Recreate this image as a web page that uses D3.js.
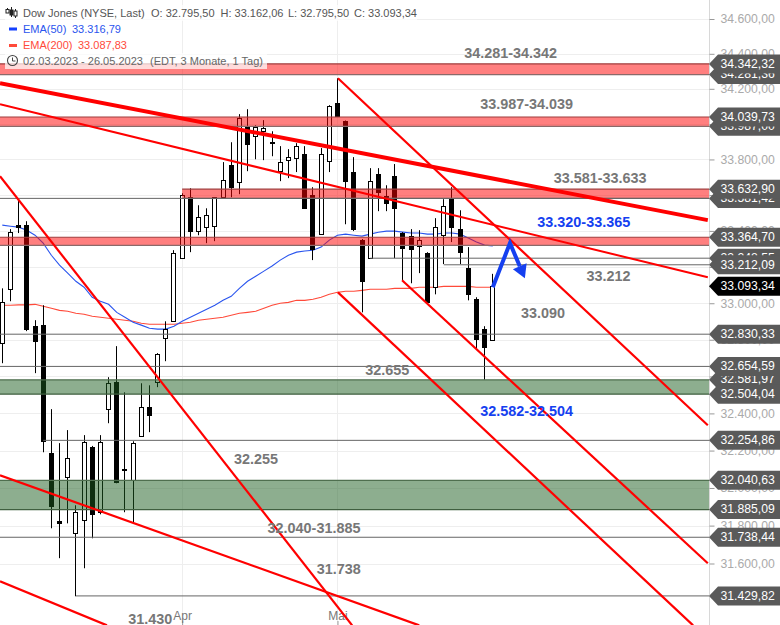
<!DOCTYPE html>
<html><head><meta charset="utf-8">
<script src="https://cdn.jsdelivr.net/npm/d3@7"></script>
<style>html,body{margin:0;padding:0;background:#fff;overflow:hidden}svg{display:block;font-family:"Liberation Sans",Arial,sans-serif}</style>
</head><body><svg id="c" width="780" height="625"></svg>
<script>
const opens=[32781,33077,33432,33432,32874,32880,32186,31823,32057,31760,31828,32218,31871,32423,32569,32100,32041,32277,32433,32569,32808,32901,33249,33588,33399,33421,33426,33588,33768,33672,33982,33931,33959,33897,33734,33796,33807,33830,33599,33382,33790,34118,34016,33729,33349,33249,33718,33594,33706,33388,33371,33315,33276,33088,33376,33577,33410,33193,33022,32858,32795.5];
const highs=[33082,33410,33577,33454,32907,32989,32423,32240,32310,31908,32283,32225,32283,32596,32765,32514,32250,32563,32552,32727,32901,33293,33610,33638,33543,33526,33588,33785,33897,34056,34084,33993,34022,33959,33875,33858,33892,33875,33644,33864,34107,34260,34020,33813,33355,33751,33751,33655,33774,33393,33410,33404,33282,33471,33577,33644,33515,33310,33033,32874,33162.06];
const lows=[32672,33011,33388,32847,32618,32191,31786,31628,31812,31428,31575,31733,31860,32347,32025,31871,31812,32277,32299,32542,32683,32901,33249,33282,33376,33332,33343,33588,33588,33605,33734,33801,33796,33818,33678,33695,33729,33526,33238,33382,33729,34045,33437,33399,32950,33249,33510,33510,33249,33127,33110,33166,33005,33049,33216,33338,33216,33016,32754,32582,32795.5];
const closes=[33005,33393,33421,32858,32792,32250,31902,31812,32159,31871,32245,31860,32245,32563,32030,32095,32240,32433,32390,32721,32858,33276,33599,33399,33476,33487,33588,33684,33644,34033,33886,33982,33976,33892,33785,33813,33875,33526,33299,33830,34101,34045,33678,33410,33121,33678,33616,33554,33526,33304,33299,33349,33005,33421,33537,33421,33282,33049,32803,32759,33093.34];
const ema50=[33432,33426,33421,33404,33376,33332,33265,33210,33166,33121,33088,33033,33011,32994,32950,32923,32896,32880,32863,32858,32858,32874,32901,32923,32945,32967,32989,33016,33038,33082,33121,33149,33177,33205,33238,33265,33282,33288,33293,33310,33349,33376,33382,33376,33371,33382,33393,33399,33399,33393,33388,33388,33382,33382,33388,33388,33382,33360,33338,33321,33316.79];
const ema200=[32989,32989,32991,32991,32994,32983,32972,32961,32956,32945,32940,32929,32923,32918,32912,32907,32901,32890,32885,32885,32885,32885,32890,32896,32907,32912,32918,32923,32934,32945,32950,32956,32972,32989,33000,33005,33016,33016,33022,33033,33049,33060,33066,33066,33071,33077,33077,33077,33082,33082,33082,33088,33088,33088,33093,33093,33093,33093,33088,33088,33087.83];
const yTicks=[34600,34400,34200,34000,33800,33600,33400,33200,33000,32800,32600,32400,32200,32000,31800,31600];
const xTickBars=[22,41];
const xTickNames=["Apr","Mai"];
// zones: [top price, bottom price, first bar, kind]
const zoneTop=[34342.32,34039.73,33632.90,33364.70,32581.97,32040.63];
const zoneBottom=[34281.36,33987.00,33581.42,33320.00,32504.04,31885.09];
const zoneStartBar=[-1,-1,22,-1,-1,-1];
const zoneKind=["r","r","r","r","g","g"];
// horizontal levels: price, first bar
const levelPrices=[33581.42,33248.55,33212.09,32830.33,32654.59,32254.86,31738.44,31429.82];
const levelStartBar=[-1,45,54,-1,-1,5,-1,9];
// trend lines: bar index and price of both ends
const trendBarA=[-0.28,-0.28,-0.28,-0.28,-0.28,41.06,41.06,48.9];
const trendPriceA=[34232,34112,33706,32068,31507,34260,33060,33127];
const trendBarB=[86.3,86.3,42.8,51.0,12.8,86.3,84.5,86.3];
const trendPriceB=[33460,33143,31276,31276,31276,32336,31276,31601];
const trendWidth=[4,2,2.2,2.2,2.2,2.2,2.2,2.2];
const arrowBars=[60,62.1,63.3];
const arrowPrices=[33088,33332,33204];
// price tags, painted in this order
const tagPrices=[34281.36,33987.00,33581.42,33248.55,32581.97,34342.32,34039.73,33632.90,33364.70,33212.09,32830.33,32654.59,32504.04,32254.86,32040.63,31885.09,31738.44,31429.82];
const lastPrice=33093.34;
const noteTexts=["34.281-34.342","33.987-34.039","33.581-33.633","33.320-33.365","33.212","33.090","32.655","32.582-32.504","32.255","32.040-31.885","31.738","31.430"];
const noteBars=[56.5,58.45,67.45,65.45,71.45,63.45,44.4,58.45,28.35,32.45,38.45,15.4];
const notePrices=[34397,34107,33687,33443,33143,32941,32627,32405,32150,31783,31566,31303];
const noteBlue=[0,0,0,1,0,0,0,1,0,0,0,0];

const W=780,H=625,axisX=709;
const svg=d3.select("#c");
const x=d3.scaleLinear().domain([0,60]).range([2.3,492.8]);
const y=d3.scaleLog().domain([34600,31600]).range([19,563.5]);
const de=d3.formatLocale({decimal:",",thousands:".",grouping:[3],currency:["","€"]});
const fmt=de.format(",.2f");
const px=b=>b<0?0:x(b);

svg.append("defs").append("clipPath").attr("id","plot").append("rect").attr("width",axisX).attr("height",H);
const fontSize=12.2;

// grid
svg.append("g").selectAll("line").data(yTicks).join("line").attr("x1",0).attr("x2",axisX)
 .attr("y1",d=>Math.round(y(d))+.5).attr("y2",d=>Math.round(y(d))+.5).attr("stroke","#eeeeee").attr("stroke-width",1);
svg.append("g").selectAll("line").data(xTickBars).join("line").attr("x1",d=>Math.round(x(d))+.5).attr("x2",d=>Math.round(x(d))+.5)
 .attr("y1",0).attr("y2",H).attr("stroke","#eeeeee");

// axes
const ax=svg.append("g").attr("transform",`translate(${axisX+.5},0)`)
 .call(d3.axisRight(y).tickValues(yTicks).tickFormat(fmt).tickSize(5).tickPadding(6));
ax.select(".domain").attr("stroke","#d8d8d8").attr("d",`M0,0V${H}`);
ax.selectAll(".tick line").attr("stroke","#999");
ax.selectAll("text").attr("fill","#aaaaaa").attr("font-size",fontSize).attr("font-family","Liberation Sans");
const bx=svg.append("g").attr("transform",`translate(0,${H-4})`)
 .call(d3.axisBottom(x).tickValues(xTickBars).tickFormat((d,i)=>xTickNames[i]).tickSize(4).tickPadding(-3));
bx.select(".domain").remove();
bx.selectAll(".tick line").attr("stroke","#999");
bx.selectAll("text").attr("dy",0).attr("y",-1).attr("fill","#777").attr("font-size",12).attr("font-family","Liberation Sans");

// EMA lines
const lineOf=arr=>d3.line().x((d,i)=>x(i)).y(d=>y(d))(arr);
svg.append("path").attr("d",lineOf(ema200)).attr("fill","none").attr("stroke","#ff4a3a").attr("stroke-width",1.1);
svg.append("path").attr("d",lineOf(ema50)).attr("fill","none").attr("stroke","#2a55ee").attr("stroke-width",1.1);

// candles
const cg=svg.append("g");
opens.forEach((o,i)=>{
  const c=closes[i],up=c>=o,cx=Math.floor(x(i))+.5;
  cg.append("line").attr("x1",cx).attr("x2",cx).attr("y1",y(highs[i])).attr("y2",y(lows[i])).attr("stroke","#000").attr("stroke-width",1);
  const t=y(Math.max(o,c)),b=y(Math.min(o,c));
  cg.append("rect").attr("x",cx-2).attr("width",4).attr("y",Math.round(t)+.5).attr("height",Math.max(1,Math.round(b-t)))
    .attr("fill",up?"#fff":"#000").attr("stroke","#000").attr("stroke-width",1);
});

// zones
const zg=svg.append("g");
zoneTop.forEach((t,i)=>{
  const red=zoneKind[i]==="r",xa=px(zoneStartBar[i]);
  const yt=y(t),yb=y(zoneBottom[i]);
  zg.append("rect").attr("x",xa).attr("width",axisX-xa).attr("y",yt).attr("height",yb-yt)
    .attr("fill",red?"#ff0000":"#1b5e20").attr("fill-opacity",.5);
  zg.append("line").attr("x1",xa).attr("x2",axisX).attr("y1",yt).attr("y2",yt).attr("stroke",red?"#a03c3c":"#4f6f4f").attr("stroke-width",1.2);
  zg.append("line").attr("x1",xa).attr("x2",axisX).attr("y1",yb).attr("y2",yb).attr("stroke",red?"#8a6a6a":"#3f5f3f").attr("stroke-width",1.2);
});

// levels
svg.append("g").selectAll("line").data(levelPrices).join("line")
 .attr("x1",(d,i)=>px(levelStartBar[i])).attr("x2",axisX).attr("y1",d=>y(d)).attr("y2",d=>y(d))
 .attr("stroke","#666").attr("stroke-width",1);

// trend lines
const tg=svg.append("g").attr("clip-path","url(#plot)");
trendBarA.forEach((b,i)=>{
  tg.append("line").attr("x1",x(b)).attr("y1",y(trendPriceA[i])).attr("x2",x(trendBarB[i])).attr("y2",y(trendPriceB[i]))
    .attr("stroke","#ff0000").attr("stroke-width",trendWidth[i]);
});

// arrow
const ap=arrowBars.map((b,i)=>[x(b),y(arrowPrices[i])]);
svg.append("path").attr("d",d3.line()(ap)).attr("fill","none").attr("stroke","#1540f0").attr("stroke-width",4);
const [p1,p2]=[ap[1],ap[2]];
const ang=Math.atan2(p2[1]-p1[1],p2[0]-p1[0]);
const tip=[p2[0]+13*Math.cos(ang),p2[1]+13*Math.sin(ang)];
const hd=(a,l)=>[tip[0]-l*Math.cos(ang+a),tip[1]-l*Math.sin(ang+a)];
svg.append("path").attr("d",d3.line()([tip,hd(.52,15),hd(-.52,15)])+"Z").attr("fill","#1540f0");

// notes
svg.append("g").selectAll("text").data(noteTexts).join("text").text(d=>d)
 .attr("x",(d,i)=>x(noteBars[i])).attr("y",(d,i)=>y(notePrices[i])).attr("text-anchor","start")
 .attr("font-size",14.4).attr("font-weight","bold").attr("dominant-baseline","middle")
 .attr("fill",(d,i)=>noteBlue[i]?"#1540f0":"#777777");

// price tags
const tagPath=(yc,h=19)=>`M${axisX},${yc}L${axisX+9},${yc-h/2}H${W}V${yc+h/2}H${axisX+9}Z`;
const tags=svg.append("g");
tagPrices.forEach(p=>{
  const yc=y(p);
  tags.append("path").attr("d",tagPath(yc)).attr("fill","#5a5a5a");
  tags.append("text").attr("x",720.5).attr("y",yc+.5).attr("dominant-baseline","middle").attr("fill","#fff").attr("font-size",fontSize).text(fmt(p));
});
const yl=y(lastPrice);
tags.append("path").attr("d",tagPath(yl)).attr("fill","#000");
tags.append("text").attr("x",720.5).attr("y",yl+.5).attr("dominant-baseline","middle").attr("fill","#fff").attr("font-size",fontSize).text(fmt(lastPrice));

// header
const hdr=svg.append("g");
[[5,5,412,16],[5,21,130,16],[5,37,135,16],[5,53,262,16]].forEach(r=>hdr.append("rect").attr("x",r[0]).attr("y",r[1]).attr("width",r[2]).attr("height",r[3]).attr("fill","#fff").attr("fill-opacity",.72));
const T=(x0,yy,s,col)=>hdr.append("text").attr("x",x0).attr("y",yy).attr("font-size",11).attr("fill",col).text(s);
T(23,17,"Dow Jones (NYSE, Last)","#555");
T(151,17,"O: 32.795,50","#555");
T(220.5,17,"H: 33.162,06","#555");
T(288,17,"L: 32.795,50","#555");
T(354,17,"C: 33.093,34","#555");
T(23,33,"EMA(50)","#2a55ee");T(72,33,"33.316,79","#2a55ee");
T(23,49,"EMA(200)","#ff4a3a");T(78,49,"33.087,83","#ff4a3a");
T(23,65,"02.03.2023 - 26.05.2023","#666");T(150,65,"(EDT, 3 Monate, 1 Tag)","#666");
// icons
[[7.5,8,13,9.5,13],[11.5,7,17,10,15],[15.5,9,18,11,16]].forEach((c,i)=>{
  hdr.append("line").attr("x1",c[0]).attr("x2",c[0]).attr("y1",c[1]).attr("y2",c[2]).attr("stroke","#222");
  hdr.append("rect").attr("x",c[0]-1.5).attr("y",c[3]).attr("width",3).attr("height",c[4]-c[3]).attr("fill",i==1?"#222":"#fff").attr("stroke","#222");
});
hdr.append("rect").attr("x",9).attr("y",27.5).attr("width",8).attr("height",3).attr("fill","#1540ff");
hdr.append("rect").attr("x",9).attr("y",44).attr("width",8).attr("height",3).attr("fill","#ff4a3a");
hdr.append("circle").attr("cx",12.5).attr("cy",60.5).attr("r",5).attr("fill","none").attr("stroke","#444").attr("stroke-width",1.1);
hdr.append("path").attr("d","M12.5,57.5V61H15.5").attr("fill","none").attr("stroke","#444");
</script></body></html>
